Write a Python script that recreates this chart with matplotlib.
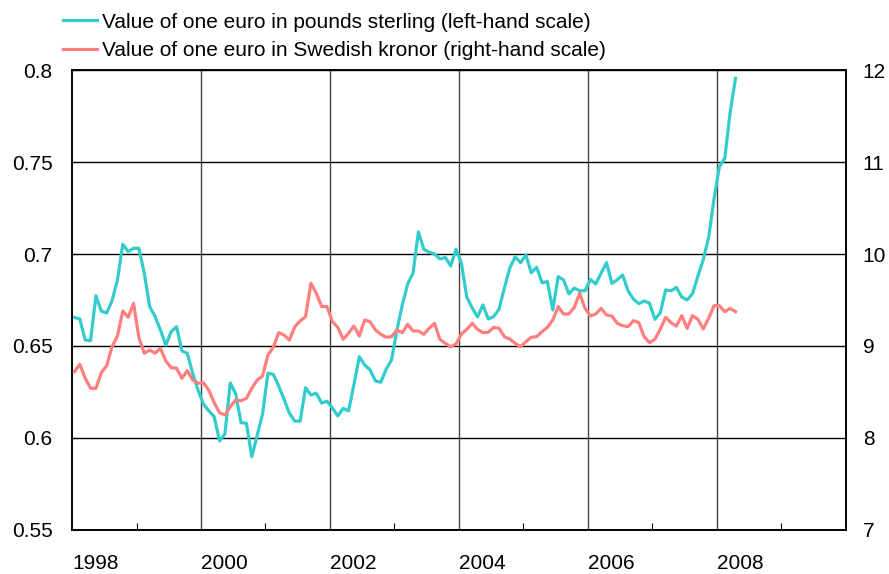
import numpy as np
import matplotlib.pyplot as plt
from matplotlib.lines import Line2D

plt.rcParams["font.family"] = ["Liberation Sans", "DejaVu Sans"]

# monthly averages, Jan 1998 - Apr 2008
gbp = [
    0.6655, 0.6647, 0.6533, 0.6529, 0.6773, 0.6690, 0.6679, 0.6746, 0.6859, 0.7053, 0.7013, 0.7031,
    0.7031, 0.6895, 0.6714, 0.6660, 0.6587, 0.6505, 0.6578, 0.6605, 0.6473, 0.6460, 0.6352, 0.6260,
    0.6185, 0.6147, 0.6116, 0.5984, 0.6022, 0.6299, 0.6240, 0.6083, 0.6080, 0.5898, 0.6014, 0.6130,
    0.6352, 0.6346, 0.6283, 0.6210, 0.6134, 0.6092, 0.6092, 0.6273, 0.6234, 0.6243, 0.6190, 0.6200,
    0.6163, 0.6120, 0.6161, 0.6147, 0.6290, 0.6442, 0.6397, 0.6370, 0.6310, 0.6303, 0.6374, 0.6424,
    0.6587, 0.6723, 0.6837, 0.6897, 0.7120, 0.7026, 0.7010, 0.7000, 0.6973, 0.6982, 0.6935, 0.7026,
    0.6950, 0.6766, 0.6707, 0.6658, 0.6723, 0.6647, 0.6660, 0.6700, 0.6815, 0.6924, 0.6985, 0.6953,
    0.6995, 0.6898, 0.6928, 0.6844, 0.6850, 0.6696, 0.6877, 0.6859, 0.6783, 0.6815, 0.6800, 0.6800,
    0.6862, 0.6837, 0.6897, 0.6953, 0.6840, 0.6860, 0.6886, 0.6800, 0.6755, 0.6730, 0.6745, 0.6732,
    0.6645, 0.6680, 0.6805, 0.6800, 0.6818, 0.6766, 0.6750, 0.6785, 0.6880, 0.6970, 0.7090, 0.7300,
    0.7475, 0.7520, 0.7770, 0.7955,
]
sek = [
    8.721, 8.801, 8.649, 8.540, 8.540, 8.710, 8.786, 8.992, 9.109, 9.380, 9.312, 9.464,
    9.090, 8.921, 8.957, 8.921, 8.975, 8.837, 8.764, 8.758, 8.649, 8.732, 8.630, 8.595,
    8.601, 8.520, 8.384, 8.275, 8.250, 8.340, 8.413, 8.405, 8.431, 8.540, 8.630, 8.674,
    8.902, 8.986, 9.145, 9.120, 9.065, 9.210, 9.272, 9.319, 9.682, 9.573, 9.430, 9.428,
    9.264, 9.203, 9.073, 9.138, 9.217, 9.109, 9.283, 9.264, 9.174, 9.127, 9.095, 9.101,
    9.174, 9.145, 9.236, 9.163, 9.163, 9.127, 9.192, 9.247, 9.073, 9.029, 8.992, 9.022,
    9.130, 9.181, 9.247, 9.181, 9.145, 9.149, 9.203, 9.192, 9.101, 9.076, 9.029, 8.992,
    9.047, 9.095, 9.101, 9.156, 9.203, 9.283, 9.428, 9.348, 9.348, 9.420, 9.573, 9.409,
    9.326, 9.348, 9.409, 9.337, 9.326, 9.247, 9.221, 9.210, 9.275, 9.254, 9.101, 9.036,
    9.073, 9.181, 9.312, 9.254, 9.217, 9.330, 9.192, 9.330, 9.290, 9.185, 9.301, 9.438,
    9.438, 9.373, 9.409, 9.373,
]
months = 1998 + (np.arange(len(gbp)) + 0.45) / 12

year_labels = ["1998", "2000", "2002", "2004", "2006", "2008"]
grid_years = [2000, 2002, 2004, 2006, 2008]
left_ticks = [0.55, 0.6, 0.65, 0.7, 0.75, 0.8]
left_labels = ["0.55", "0.6", "0.65", "0.7", "0.75", "0.8"]
right_ticks = [7, 8, 9, 10, 11, 12]

teal = "#33CCCC"
pink = "#FF7F7F"

fig = plt.figure(figsize=(8.89, 5.74), dpi=100)
ax = fig.add_axes([0.081, 0.0767, 0.8706, 0.8013])
ax2 = ax.twinx()

ax.set_xlim(1998, 2010)
ax.set_ylim(0.55, 0.8)
ax2.set_ylim(7, 12)

for v in left_ticks:
    ax.axhline(v, color="black", lw=1.0, zorder=1)
for yr in grid_years:
    ax.axvline(yr, color="#444444", lw=1.0, zorder=1)

ax.plot(months, gbp, color=teal, lw=2.3, zorder=3)
ax2.plot(months, sek, color=pink, lw=2.3, zorder=3)

ax.set_yticks(left_ticks)
ax.set_yticklabels(left_labels)
ax2.set_yticks(right_ticks)

ax.set_xticks([int(y) + 0.36 for y in year_labels])
ax.set_xticklabels(year_labels)
ax.set_xticks(np.arange(1999, 2010, 2), minor=True)

ax.tick_params(axis="x", which="major", length=0, pad=17, labelsize=15)
ax.tick_params(axis="x", which="minor", direction="in", length=5, width=0.8)
ax.tick_params(axis="y", direction="in", length=4, pad=14, labelsize=15)
ax2.tick_params(axis="y", length=0, pad=12, labelsize=15)

for a in (ax, ax2):
    for s in a.spines.values():
        s.set_color("black")
        s.set_linewidth(1.2)

handles = [
    Line2D([], [], color=teal, lw=2.3),
    Line2D([], [], color=pink, lw=2.3),
]
labels = [
    "Value of one euro in pounds sterling (left-hand scale)",
    "Value of one euro in Swedish kronor (right-hand scale)",
]
fig.legend(handles, labels, loc="upper left", bbox_to_anchor=(0.071, 0.978),
           frameon=False, fontsize=15, handlelength=1.63, handletextpad=0.25,
           labelspacing=0.45, borderpad=0, borderaxespad=0)

fig.savefig("out.png", dpi=100)
